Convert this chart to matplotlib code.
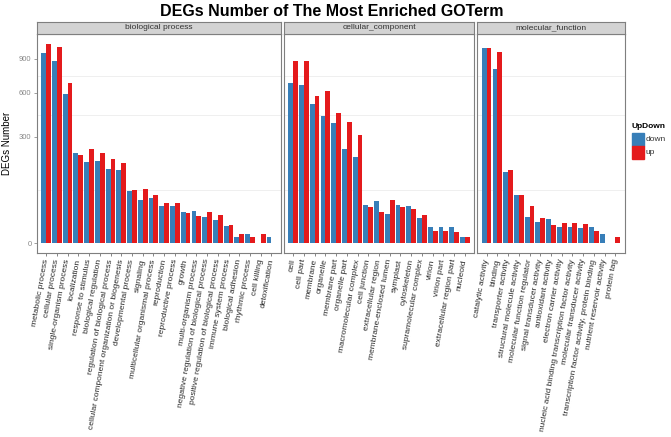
import numpy as np
import matplotlib.pyplot as plt
from matplotlib.patches import Rectangle

plt.rcParams["font.family"] = ["Liberation Sans", "DejaVu Sans"]

bp_terms = ["metabolic process", "cellular process", "single-organism process",
            "localization", "response to stimulus", "biological regulation",
            "regulation of biological process",
            "cellular component organization or biogenesis",
            "developmental process", "signaling", "multicellular organismal process",
            "reproduction", "reproductive process", "growth", "multi-organism process",
            "negative regulation of biological process",
            "positive regulation of biological process", "immune system process",
            "biological adhesion", "rhythmic process", "cell killing", "detoxification"]
bp_down = [958, 881, 588, 214, 173, 179, 145, 142, 71, 50, 54, 36, 36, 25, 28, 18, 14, 8, 1, 2, 0, 1]
bp_up = [1050, 1015, 675, 207, 234, 217, 186, 170, 75, 78, 62, 43, 43, 24, 19, 26, 21, 9, 2, 1, 2, 0]

cc_terms = ["cell", "cell part", "membrane", "organelle", "membrane part",
            "organelle part", "macromolecular complex", "cell junction",
            "extracellular region", "membrane-enclosed lumen", "symplast",
            "cytoskeleton", "supramolecular complex", "virion", "virion part",
            "extracellular region part", "nucleoid"]
cc_down = [681, 661, 509, 426, 381, 232, 198, 38, 47, 23, 38, 36, 16, 7, 7, 7, 1]
cc_up = [878, 878, 572, 615, 447, 387, 310, 34, 25, 48, 34, 31, 21, 4, 4, 3, 1]

mf_terms = ["catalytic activity", "binding", "transporter activity",
            "structural molecule activity", "molecular function regulator",
            "signal transducer activity", "antioxidant activity",
            "electron carrier activity",
            "nucleic acid binding transcription factor activity",
            "molecular transducer activity",
            "transcription factor activity, protein binding",
            "nutrient reservoir activity", "protein tag"]
mf_down = [1012, 799, 133, 61, 18, 12, 15, 7, 7, 6, 7, 2, 0]
mf_up = [1012, 971, 142, 61, 36, 16, 9, 11, 11, 10, 4, 0, 1]

facets = [("biological process", bp_terms, bp_down, bp_up),
          ("cellular_component", cc_terms, cc_down, cc_up),
          ("molecular_function", mf_terms, mf_down, mf_up)]

y_breaks = [0, 300, 600, 900]
col_down = "#377EB8"
col_up = "#E41A1C"

W, H = 671, 437
fig = plt.figure(figsize=(W / 100, H / 100), dpi=100)


def px_axes(x0, y0, x1, y1):
    # pixel box (top-left origin) -> figure axes
    return fig.add_axes([x0 / W, 1 - y1 / H, (x1 - x0) / W, (y1 - y0) / H])


def fwd(v):
    v = np.asarray(v, dtype=float)
    return np.sign(v) * np.sqrt(np.abs(v))


def inv(v):
    v = np.asarray(v, dtype=float)
    return np.sign(v) * v ** 2


ymax = max(max(bp_up + bp_down), max(cc_up + cc_down), max(mf_up + mf_down))
R = np.sqrt(ymax)
ylo, yhi = -(0.05 * R) ** 2, (1.05 * R) ** 2

# panels share a px-per-category scale (free x space)
left, right, gap = 37, 624.5, 3.5
pad = 0.35
units = [len(f[1]) + 2 * pad for f in facets]
s = (right - left - gap * (len(facets) - 1)) / sum(units)
top, bottom, strip_top = 34, 253, 22

x0 = left
for i, (name, terms, down, up) in enumerate(facets):
    x1 = x0 + units[i] * s
    ax = px_axes(x0, top, x1, bottom)
    n = len(terms)
    xs = np.arange(n)
    ax.set_yscale("function", functions=(fwd, inv))
    ax.set_ylim(ylo, yhi)
    ax.set_xlim(-0.5 - pad, n - 0.5 + pad)

    # minor grid at midpoints in sqrt space
    sq = np.sqrt(y_breaks)
    for m in (sq[:-1] + sq[1:]) / 2:
        ax.axhline(m ** 2, color="#EDEDED", lw=0.6, zorder=0)

    ax.bar(xs - 0.225, down, width=0.45, color=col_down, zorder=2)
    ax.bar(xs + 0.225, up, width=0.45, color=col_up, zorder=2)

    ax.set_xticks(xs)
    ax.set_xticklabels(terms, rotation=80, ha="right", va="center",
                       rotation_mode="anchor", fontsize=6, color="#2b2b2b")
    ax.tick_params(axis="x", length=2.5, width=0.5, color="#555555", pad=2)
    if i == 0:
        ax.set_yticks(y_breaks)
        ax.set_yticklabels([str(b) for b in y_breaks], fontsize=5.5, color="#888888")
        ax.tick_params(axis="y", length=2.5, width=0.5, color="#777777", pad=1.5)
        ax.yaxis.set_minor_locator(plt.NullLocator())
        ax.set_ylabel("DEGs Number", fontsize=7, labelpad=5)
    else:
        ax.set_yticks([])
        ax.yaxis.set_minor_locator(plt.NullLocator())
    for sp in ax.spines.values():
        sp.set_color("#7F7F7F")
        sp.set_linewidth(0.8)

    # facet strip
    st = px_axes(x0, strip_top, x1, top - 0.5)
    st.set_xticks([])
    st.set_yticks([])
    st.set_facecolor("#D3D3D3")
    for sp in st.spines.values():
        sp.set_color("#7F7F7F")
        sp.set_linewidth(0.8)
    st.text(0.5, 0.5, name, ha="center", va="center", fontsize=6,
            color="#333333", transform=st.transAxes)
    x0 = x1 + gap

fig.text(332 / W, 1 - 12 / H, "DEGs Number of The Most Enriched GOTerm",
         ha="center", va="center", fontsize=11.5, fontweight="bold")

# legend
fig.text(632 / W, 1 - 127 / H, "UpDown", fontsize=6, fontweight="bold",
         ha="left", va="center")
for j, (lab, c) in enumerate([("down", col_down), ("up", col_up)]):
    yk = 133 + j * 13
    fig.patches.append(Rectangle((632 / W, 1 - (yk + 13) / H), 12 / W, 13 / H,
                                 transform=fig.transFigure, color=c))
    fig.text(646 / W, 1 - (yk + 6.5) / H, lab, fontsize=6, color="#333333",
             ha="left", va="center")

fig.savefig("out.png", dpi=100)
